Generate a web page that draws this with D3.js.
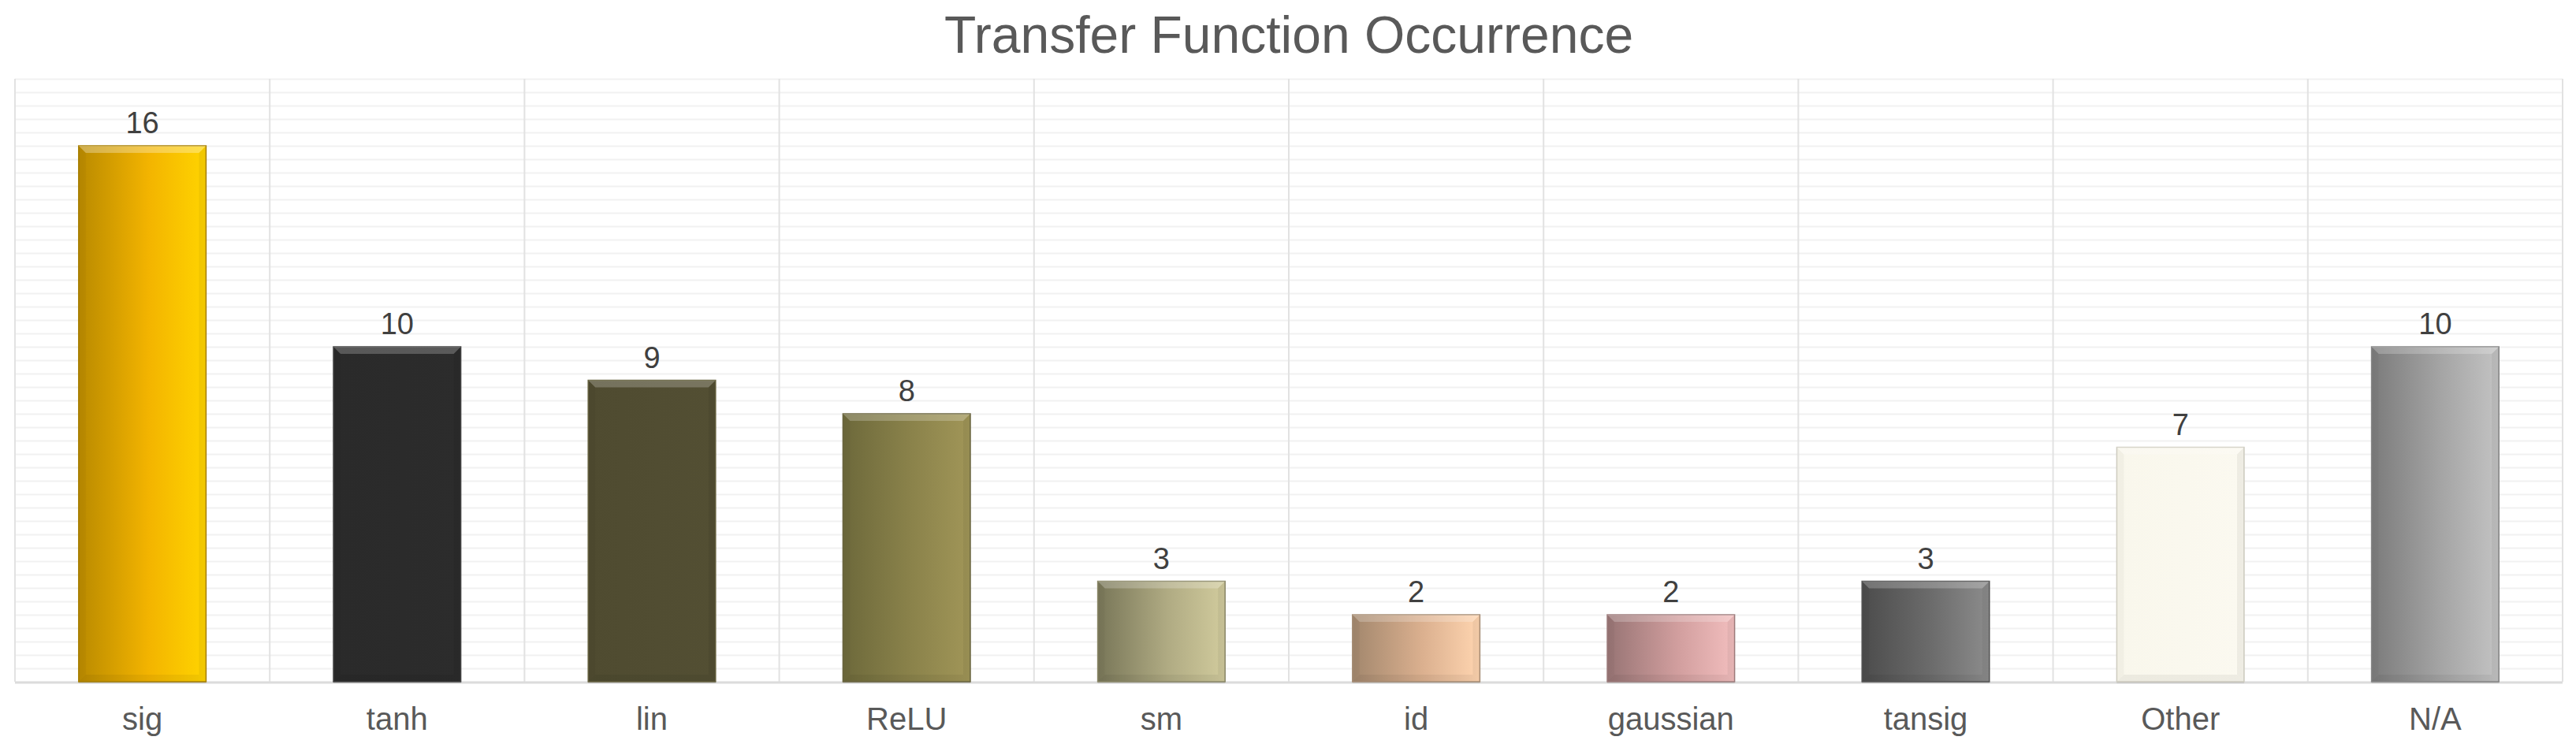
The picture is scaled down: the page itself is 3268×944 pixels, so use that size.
<html>
<head>
<script src="https://d3js.org/d3.v7.min.js"></script>
<style>
  body { margin: 0; background: #fff; }
  text { font-family: "Liberation Sans", Arial, sans-serif; }
</style>
</head>
<body>
<div id="chart"></div>
<script>
// data
var categories = ["sig", "tanh", "lin", "ReLU", "sm", "id", "gaussian", "tansig", "Other", "N/A"];
var counts = [16, 10, 9, 8, 3, 2, 2, 3, 7, 10];
var yMax = 18;
var gridStep = 0.4;
var title = "Transfer Function Occurrence";

// bar fills: [left, middle, right] of the horizontal gradient
var barColors = [
  ["#b98a00", "#f3b400", "#ffd400"],
  ["#2a2a2a", "#2b2b2b", "#2c2c2c"],
  ["#4f4b30", "#514d32", "#534f33"],
  ["#6d693b", "#8b834b", "#a19658"],
  ["#787658", "#b0ab83", "#d1cb9d"],
  ["#a2876d", "#dbb08f", "#ffd5b0"],
  ["#977474", "#d19e9e", "#f2bebe"],
  ["#4c4c4c", "#6c6c6c", "#8c8c8c"],
  ["#f9f7ec", "#faf8ee", "#fbf9f0"],
  ["#7b7b7b", "#a5a5a5", "#c3c3c3"]
];
var borderColors = ["#a98000", "#444", "#66623f", "#6b6640", "#8d8a6a", "#a88e76", "#a07f7f", "#555", "#d2d0c4", "#888"];

var width = 3268, height = 944;
var margin = {left: 19, right: 17, top: 100, bottom: 79};

var svg = d3.select("#chart").append("svg")
  .attr("width", width)
  .attr("height", height);

var defs = svg.append("defs");
barColors.forEach(function(c, i) {
  var lg = defs.append("linearGradient").attr("id", "grad" + i)
    .attr("x1", "0%").attr("x2", "100%").attr("y1", "0%").attr("y2", "0%");
  lg.append("stop").attr("offset", "0%").attr("stop-color", c[0]);
  lg.append("stop").attr("offset", "55%").attr("stop-color", c[1]);
  lg.append("stop").attr("offset", "100%").attr("stop-color", c[2]);
});

var x = d3.scaleBand()
  .domain(categories)
  .range([margin.left, width - margin.right])
  .paddingInner(0.5)
  .paddingOuter(0.25);

var y = d3.scaleLinear()
  .domain([0, yMax])
  .range([height - margin.bottom, margin.top]);

// horizontal gridlines
var gridVals = d3.range(0, yMax + 0.001, gridStep);
svg.append("g").selectAll("line")
  .data(gridVals)
  .enter().append("line")
  .attr("x1", margin.left).attr("x2", width - margin.right)
  .attr("y1", d => Math.round(y(d)) + 0.5).attr("y2", d => Math.round(y(d)) + 0.5)
  .attr("stroke", "#f1f1f1")
  .attr("stroke-width", 2);

// vertical category separators
var step = x.step();
svg.append("g").selectAll("line")
  .data(d3.range(categories.length + 1))
  .enter().append("line")
  .attr("x1", i => margin.left + i * step).attr("x2", i => margin.left + i * step)
  .attr("y1", y(yMax)).attr("y2", y(0))
  .attr("stroke", "#e2e2e2")
  .attr("stroke-width", 2);

// axis baseline
svg.append("line")
  .attr("x1", margin.left).attr("x2", width - margin.right)
  .attr("y1", y(0) + 1).attr("y2", y(0) + 1)
  .attr("stroke", "#dcdcdc").attr("stroke-width", 3);

// bars
var bev = 9;
var bars = svg.append("g").selectAll("g")
  .data(counts)
  .enter().append("g");

// soft shadow under the bar
bars.append("rect")
  .attr("x", (d, i) => x(categories[i]))
  .attr("y", d => y(d) + 2)
  .attr("width", x.bandwidth())
  .attr("height", d => y(0) - y(d))
  .attr("fill", "#c4c4c4");

bars.append("rect")
  .attr("x", (d, i) => x(categories[i]))
  .attr("y", d => y(d))
  .attr("width", x.bandwidth())
  .attr("height", d => y(0) - y(d))
  .attr("fill", (d, i) => "url(#grad" + i + ")")
  .attr("stroke", (d, i) => borderColors[i])
  .attr("stroke-width", 1.5);

// top bevel highlight
bars.append("path")
  .attr("d", function(d, i) {
    var x0 = x(categories[i]), x1 = x0 + x.bandwidth(), y0 = y(d);
    return "M" + x0 + "," + y0 + "L" + x1 + "," + y0 + "L" + (x1 - bev) + "," + (y0 + bev) + "L" + (x0 + bev) + "," + (y0 + bev) + "Z";
  })
  .attr("fill", "#fff")
  .attr("fill-opacity", (d, i) => i == 0 ? 0.3 : 0.22);

// side bevels
bars.append("path")
  .attr("d", function(d, i) {
    var x0 = x(categories[i]), y0 = y(d), y1 = y(0);
    return "M" + x0 + "," + y0 + "L" + (x0 + bev) + "," + (y0 + bev) + "L" + (x0 + bev) + "," + (y1 - bev) + "L" + x0 + "," + y1 + "Z";
  })
  .attr("fill", "#000").attr("fill-opacity", 0.03);
bars.append("path")
  .attr("d", function(d, i) {
    var x1 = x(categories[i]) + x.bandwidth(), y0 = y(d), y1 = y(0);
    return "M" + x1 + "," + y0 + "L" + (x1 - bev) + "," + (y0 + bev) + "L" + (x1 - bev) + "," + (y1 - bev) + "L" + x1 + "," + y1 + "Z";
  })
  .attr("fill", "#000").attr("fill-opacity", 0.05);
// bottom bevel
bars.append("path")
  .attr("d", function(d, i) {
    var x0 = x(categories[i]), x1 = x0 + x.bandwidth(), y1 = y(0);
    return "M" + x0 + "," + y1 + "L" + x1 + "," + y1 + "L" + (x1 - bev) + "," + (y1 - bev) + "L" + (x0 + bev) + "," + (y1 - bev) + "Z";
  })
  .attr("fill", "#000").attr("fill-opacity", 0.05);

// value labels
bars.append("text")
  .attr("x", (d, i) => x(categories[i]) + x.bandwidth() / 2)
  .attr("y", d => y(d) - 16)
  .attr("text-anchor", "middle")
  .attr("font-size", 38)
  .attr("fill", "#404040")
  .text(d => d);

// category labels
svg.append("g").selectAll("text")
  .data(categories)
  .enter().append("text")
  .attr("x", d => x(d) + x.bandwidth() / 2)
  .attr("y", 926)
  .attr("text-anchor", "middle")
  .attr("font-size", 40)
  .attr("fill", "#595959")
  .text(d => d);

// title
svg.append("text")
  .attr("x", (margin.left + width - margin.right) / 2)
  .attr("y", 67)
  .attr("text-anchor", "middle")
  .attr("font-size", 66)
  .attr("fill", "#595959")
  .text(title);
</script>
</body>
</html>
